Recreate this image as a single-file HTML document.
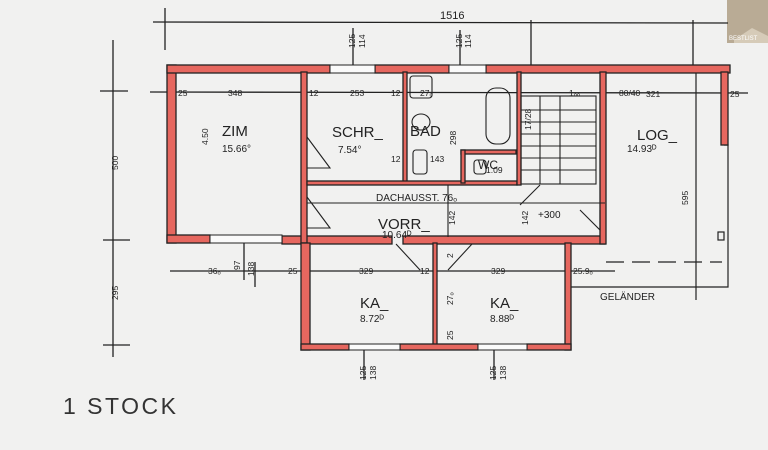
<!DOCTYPE html>
<html><head><meta charset="utf-8"><style>
html,body{margin:0;padding:0;background:#f1f1f0;}
svg{display:block}
text{font-family:"Liberation Sans",sans-serif;fill:#222}
</style></head><body>
<svg width="768" height="450" viewBox="0 0 768 450" xmlns="http://www.w3.org/2000/svg">
<rect width="768" height="450" fill="#f1f1f0"/>
<rect x="727" y="0" width="41" height="43" fill="#b9ab95"/>
<polygon points="734,40 752,28 768,36 768,43 734,43" fill="#d6cbb8"/>
<text x="729" y="40" font-size="6" style="fill:#fff">BESTLIST</text>
<g stroke="#222" stroke-width="1.3" fill="none">
<line x1="153" y1="22" x2="728" y2="23"/>
<line x1="165" y1="8" x2="165" y2="50"/>
<line x1="113" y1="40" x2="113" y2="357"/>
<line x1="100" y1="91" x2="128" y2="91"/>
<line x1="103" y1="240" x2="130" y2="240"/>
<line x1="103" y1="345" x2="130" y2="345"/>
<line x1="150" y1="92" x2="748" y2="93"/>
<line x1="170" y1="271" x2="615" y2="271"/>
<line x1="255" y1="262" x2="255" y2="287"/>
<line x1="353" y1="28" x2="353" y2="68"/>
<line x1="460" y1="30" x2="460" y2="68"/>
<line x1="364" y1="350" x2="364" y2="380"/>
<line x1="494" y1="350" x2="494" y2="380"/>
<line x1="244" y1="240" x2="244" y2="280"/>
<line x1="531" y1="20" x2="531" y2="70"/>
<line x1="693" y1="20" x2="693" y2="70"/>
</g>
<g stroke="#222" stroke-width="1.2" fill="none">
<polyline points="724,145 728,145 728,287 571,287"/>
<line x1="696" y1="70" x2="696" y2="300"/>
<line x1="606" y1="262" x2="722" y2="262" stroke-dasharray="18,8"/>
<rect x="718" y="232" width="6" height="8"/>
</g>
<g fill="#e6675f" stroke="#222" stroke-width="1.3">
<rect x="167" y="65" width="9" height="178"/>
<rect x="167" y="65" width="163" height="8"/>
<rect x="375" y="65" width="74" height="8"/>
<rect x="486" y="65" width="244" height="8"/>
<rect x="167" y="235" width="43" height="8"/>
<rect x="282" y="236" width="110" height="8"/>
<rect x="403" y="236" width="202" height="8"/>
<rect x="301" y="72" width="6" height="171"/>
<rect x="403" y="72" width="4" height="112"/>
<rect x="307" y="181" width="210" height="4"/>
<rect x="517" y="72" width="4" height="113"/>
<rect x="600" y="72" width="6" height="172"/>
<rect x="721" y="72" width="7" height="73"/>
<rect x="301" y="243" width="9" height="107"/>
<rect x="433" y="243" width="4" height="104"/>
<rect x="565" y="243" width="6" height="107"/>
<rect x="301" y="344" width="48" height="6"/>
<rect x="400" y="344" width="78" height="6"/>
<rect x="527" y="344" width="44" height="6"/>
<rect x="461" y="150" width="55" height="4"/>
<rect x="461" y="150" width="4" height="33"/>
</g>
<g fill="#fafafa" stroke="#222" stroke-width="1">
<rect x="330" y="65" width="45" height="8"/>
<rect x="449" y="65" width="37" height="8"/>
<rect x="210" y="235" width="72" height="8"/>
<rect x="349" y="344" width="51" height="6"/>
<rect x="478" y="344" width="49" height="6"/>
</g>
<g stroke="#222" stroke-width="1.1" fill="none">
<rect x="410" y="76" width="22" height="22" rx="3"/>
<rect x="486" y="88" width="24" height="56" rx="10"/>
<ellipse cx="421" cy="122" rx="9" ry="8"/>
<rect x="413" y="150" width="14" height="24" rx="3"/>
<rect x="474" y="160" width="12" height="14" rx="3"/>
<polyline points="307,137 330,168 307,168"/>
<polyline points="307,197 330,228 307,228"/>
<polyline points="396,244 420,270"/><polyline points="472,244 448,270"/>
<polyline points="580,210 600,230 600,210"/>
<polyline points="540,185 520,205"/>
<rect x="521" y="96" width="75" height="88"/>
<line x1="540" y1="96" x2="540" y2="184"/>
<line x1="560" y1="96" x2="560" y2="184"/>
<line x1="521" y1="110" x2="596" y2="110"/>
<line x1="521" y1="122" x2="596" y2="122"/>
<line x1="521" y1="134" x2="596" y2="134"/>
<line x1="521" y1="146" x2="596" y2="146"/>
<line x1="521" y1="158" x2="596" y2="158"/>
<line x1="521" y1="170" x2="596" y2="170"/>
<line x1="307" y1="203" x2="605" y2="203"/>
<line x1="448" y1="185" x2="448" y2="237"/>
</g>
<g font-size="15">
<text x="222" y="136">ZIM</text>
<text x="332" y="137">SCHR_</text>
<text x="410" y="136">BAD</text>
<text x="637" y="140">LOG_</text>
<text x="378" y="229">VORR_</text>
<text x="360" y="308">KA_</text>
<text x="490" y="308">KA_</text>
<text x="478" y="169" font-size="12">WC</text>
</g>
<g font-size="10">
<text x="222" y="152">15.66°</text>
<text x="338" y="153">7.54°</text>
<text x="627" y="152">14.93ᴰ</text>
<text x="382" y="238">10.64ᴰ</text>
<text x="360" y="322">8.72ᴰ</text>
<text x="490" y="322">8.88ᴰ</text>
<text x="376" y="201" font-size="10">DACHAUSST. 76ₒ</text>
<text x="538" y="218">+300</text>
<text x="600" y="300">GELÄNDER</text>
<text x="440" y="19" font-size="11">1516</text>
<text x="63" y="414" font-size="23" letter-spacing="2.5" style="fill:#333">1 STOCK</text>
</g>
<g font-size="8.5">
<text x="178" y="96">25</text><text x="228" y="96">348</text>
<text x="309" y="96">12</text><text x="350" y="96">253</text>
<text x="391" y="96">12</text><text x="420" y="96">27ₒ</text>
<text x="569" y="96">1ₒₒ</text><text x="619" y="96">80/40</text>
<text x="646" y="97">321</text><text x="730" y="97">25</text>
<text x="391" y="162">12</text><text x="430" y="162">143</text>
<text x="486" y="173">1.09</text>
<text x="208" y="274">36ₒ</text>
<text x="288" y="274">25</text><text x="359" y="274">329</text>
<text x="420" y="274">12</text><text x="491" y="274">329</text>
<text x="573" y="274">25.9ₒ</text>
</g>
<g font-size="8.5">
<text transform="translate(118,170) rotate(-90)">500</text>
<text transform="translate(118,300) rotate(-90)">295</text>
<text transform="translate(208,145) rotate(-90)">4.50</text>
<text transform="translate(355,48) rotate(-90)">125</text>
<text transform="translate(365,48) rotate(-90)">114</text>
<text transform="translate(462,48) rotate(-90)">125</text>
<text transform="translate(471,48) rotate(-90)">114</text>
<text transform="translate(366,380) rotate(-90)">125</text>
<text transform="translate(376,380) rotate(-90)">138</text>
<text transform="translate(496,380) rotate(-90)">125</text>
<text transform="translate(506,380) rotate(-90)">138</text>
<text transform="translate(254,276) rotate(-90)">138</text>
<text transform="translate(240,270) rotate(-90)">97</text>
<text transform="translate(456,145) rotate(-90)">298</text>
<text transform="translate(453,340) rotate(-90)">25</text>
<text transform="translate(453,305) rotate(-90)">27ₒ</text>
<text transform="translate(453,258) rotate(-90)">2</text>
<text transform="translate(528,225) rotate(-90)">142</text>
<text transform="translate(455,225) rotate(-90)">142</text>
<text transform="translate(688,205) rotate(-90)">595</text>
<text transform="translate(531,130) rotate(-90)">17/28</text>
</g>
</svg>
</body></html>
